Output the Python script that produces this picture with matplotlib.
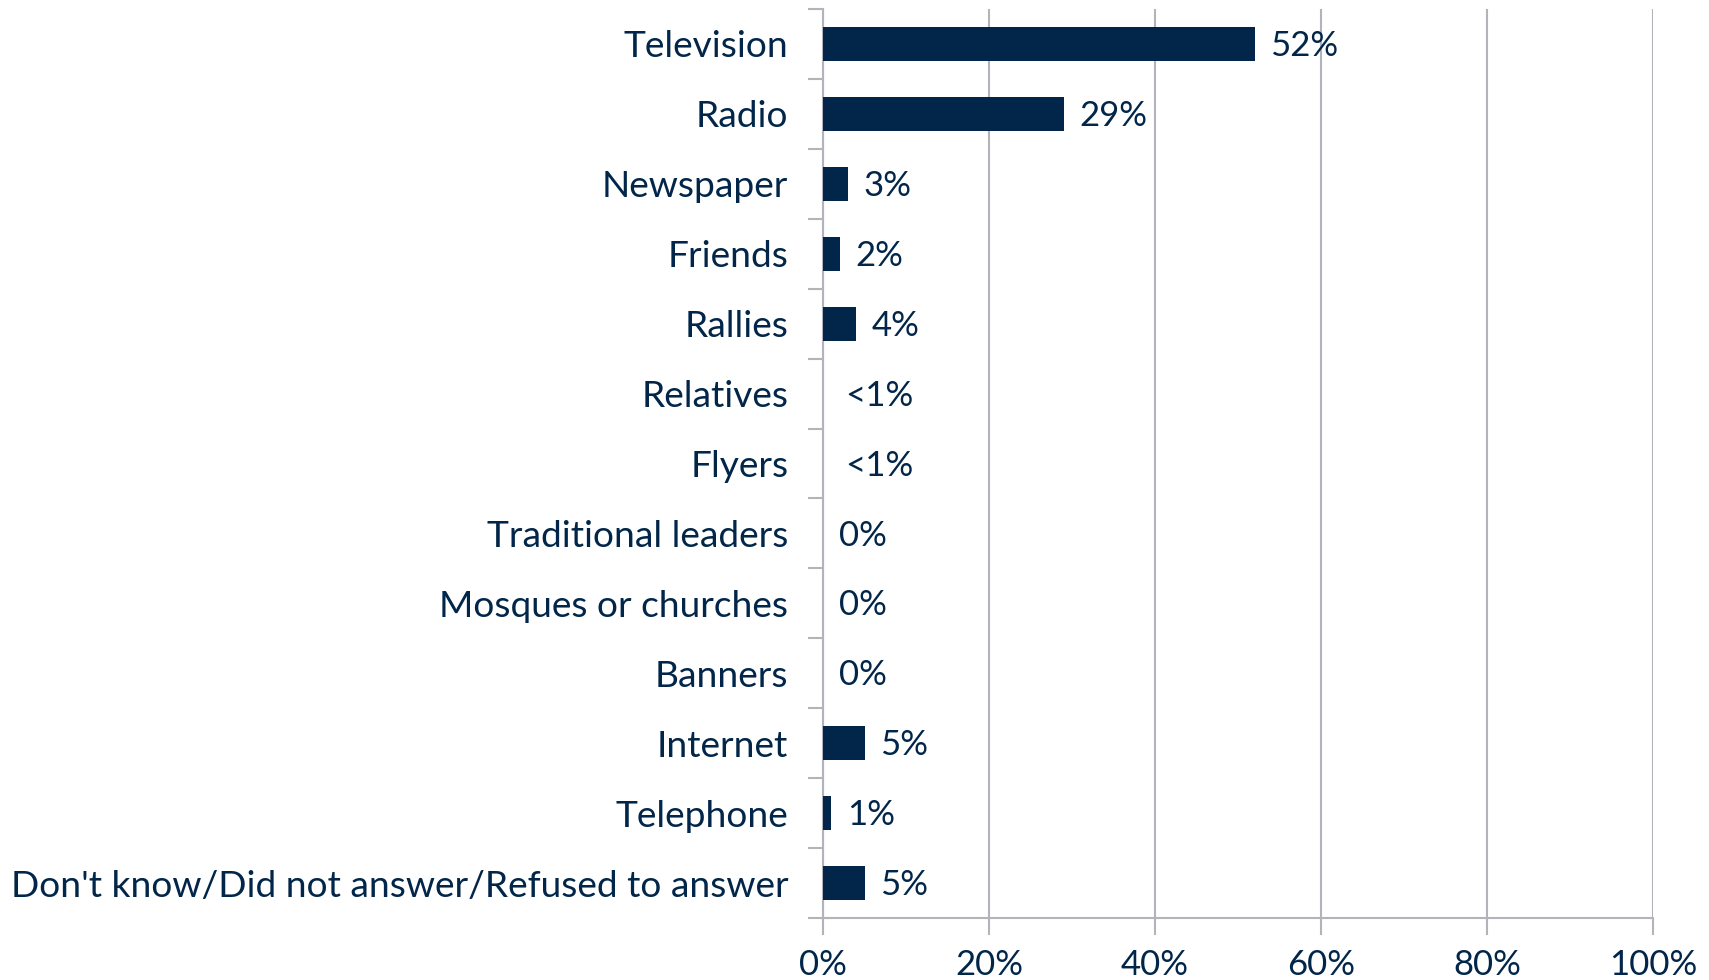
import matplotlib.pyplot as plt
from matplotlib.ticker import MultipleLocator, FuncFormatter

# Survey data: main source of election information
categories = ["Television", "Radio", "Newspaper", "Friends", "Rallies", "Relatives",
              "Flyers", "Traditional leaders", "Mosques or churches", "Banners",
              "Internet", "Telephone", "Don't know/Did not answer/Refused to answer"]
values = [52, 29, 3, 2, 4, 0, 0, 0, 0, 0, 5, 1, 5]
labels = ["52%", "29%", "3%", "2%", "4%", "<1%", "<1%", "0%", "0%", "0%", "5%", "1%", "5%"]

navy = "#022649"
grid = "#b3b3ba"
plt.rcParams['font.family'] = ['Lato', 'DejaVu Sans']

fig = plt.figure(figsize=(17.09, 9.80), dpi=100)
ax = fig.add_axes([0.4816, 0.0633, 0.4856, 0.9275])

ypos = list(range(len(categories)))
ax.barh(ypos, values, height=0.49, color=navy, zorder=3)
for y, v, lab in zip(ypos, values, labels):
    off = 2.7 if lab.startswith("<") else 1.9
    ax.text(v + off, y + 0.03, lab, va="center", ha="left", fontsize=25, color=navy)

ax.set_xlim(0, 100)
ax.set_ylim(len(categories) - 0.5, -0.5)
ax.xaxis.set_major_locator(MultipleLocator(20))
ax.xaxis.set_major_formatter(FuncFormatter(lambda x, p: f"{x:.0f}%"))
ax.grid(axis="x", color=grid, linewidth=1.5, zorder=0)

# category labels between boundary ticks
ax.set_yticks([y - 0.5 for y in ypos] + [len(categories) - 0.5])
ax.set_yticklabels([])
ax.set_yticks(ypos, minor=True)
ax.set_yticklabels(categories, minor=True, fontsize=26.7, color=navy)
ax.tick_params(axis="y", which="minor", length=0, pad=25)
ax.tick_params(axis="y", which="major", length=11, width=1.5, color=grid)
ax.tick_params(axis="x", length=12, width=1.5, color=grid, labelsize=25,
               labelcolor=navy, pad=10)

for s in ["top", "right"]:
    ax.spines[s].set_visible(False)
for s in ["left", "bottom"]:
    ax.spines[s].set_color(grid)
    ax.spines[s].set_linewidth(1.5)

fig.savefig("out.png", dpi=100)
